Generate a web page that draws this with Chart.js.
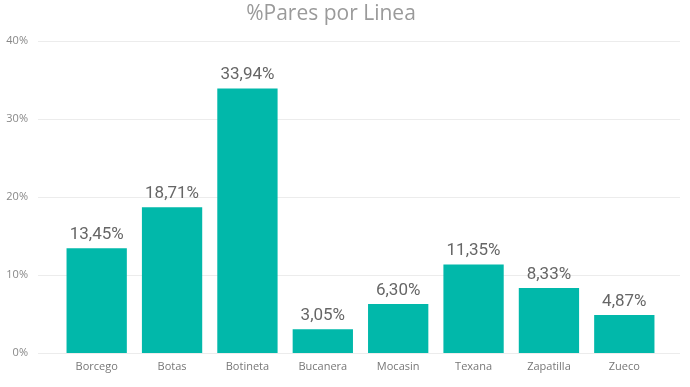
<!DOCTYPE html>
<html>
<head>
<meta charset="utf-8">
<script src="https://cdn.jsdelivr.net/npm/chart.js@4"></script>
<style>
  html, body { margin: 0; padding: 0; background: #fff; overflow: hidden; }
  canvas { display: block; }
</style>
</head>
<body>
<canvas id="chart" width="690" height="387"></canvas>
<script>
const lineas = ['Borcego', 'Botas', 'Botineta', 'Bucanera', 'Mocasin', 'Texana', 'Zapatilla', 'Zueco'];
const paresPct = [13.45, 18.71, 33.94, 3.05, 6.30, 11.35, 8.33, 4.87];
const yTicks = [0, 10, 20, 30, 40];

const BAR_COLOR = '#01B8AA';

// gridlines run wider than the category band, like the original
const wideGrid = {
  id: 'wideGrid',
  beforeDatasetsDraw(chart) {
    const { ctx, chartArea, scales } = chart;
    ctx.save();
    ctx.strokeStyle = '#ececec';
    ctx.lineWidth = 1;
    yTicks.forEach((v) => {
      const y = Math.round(scales.y.getPixelForValue(v)) + 0.5;
      ctx.beginPath();
      ctx.moveTo(chartArea.left - 21, y);
      ctx.lineTo(chartArea.right + 18, y);
      ctx.stroke();
    });
    ctx.restore();
  },
};

const valueLabels = {
  id: 'valueLabels',
  afterDatasetsDraw(chart) {
    const { ctx } = chart;
    const meta = chart.getDatasetMeta(0);
    ctx.save();
    ctx.font = '17px "Roboto", sans-serif';
    ctx.fillStyle = '#666';
    ctx.textAlign = 'center';
    ctx.textBaseline = 'bottom';
    meta.data.forEach((bar, i) => {
      const text = paresPct[i].toFixed(2).replace('.', ',') + '%';
      ctx.fillText(text, bar.x, bar.y - 5);
    });
    ctx.restore();
  },
};

new Chart(document.getElementById('chart'), {
  type: 'bar',
  data: {
    labels: lineas,
    datasets: [{
      label: '%Pares por Linea',
      data: paresPct,
      backgroundColor: BAR_COLOR,
      borderWidth: 0,
      barPercentage: 0.8,
      categoryPercentage: 1,
    }],
  },
  options: {
    responsive: false,
    animation: false,
    devicePixelRatio: 1,
    layout: { padding: { left: 0, right: 28, top: 0, bottom: 0 } },
    plugins: {
      legend: { display: false },
      tooltip: { enabled: false },
      title: {
        display: true,
        text: '%Pares por Linea',
        color: '#9a9a9a',
        font: { family: '"Open Sans", sans-serif', size: 21, weight: 'normal' },
        padding: { top: 1, bottom: 15 },
      },
    },
    scales: {
      x: {
        grid: { display: false, drawTicks: false },
        border: { display: false },
        afterFit(scale) { scale.height = 34; },
        ticks: {
          color: '#777',
          font: { family: '"Open Sans", sans-serif', size: 11 },
          padding: 7,
          maxRotation: 0,
        },
      },
      y: {
        min: 0,
        max: 40,
        grid: { display: false, drawTicks: false },
        border: { display: false },
        afterFit(scale) {
          scale.width = 59;
          scale.paddingTop = 0;
          scale.paddingBottom = 0;
        },
        afterBuildTicks(scale) { scale.ticks = yTicks.map((v) => ({ value: v })); },
        ticks: {
          color: '#888',
          padding: 31,
          font: { family: '"Open Sans", sans-serif', size: 11 },
          callback: (v) => v + '%',
        },
      },
    },
  },
  plugins: [wideGrid, valueLabels],
});
</script>
</body>
</html>
